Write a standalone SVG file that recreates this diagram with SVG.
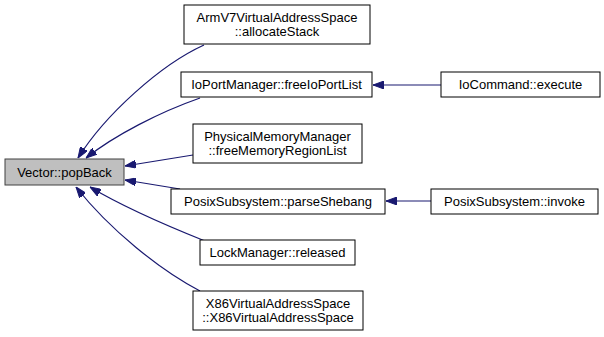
<svg xmlns="http://www.w3.org/2000/svg" width="604" height="337" viewBox="0 0 604 337">
  <style>
    .box { fill: #ffffff; stroke: #000000; stroke-width: 1; }
    .cur { fill: #bfbfbf; stroke: #404040; stroke-width: 1; }
    .lbl { font-family: "Liberation Sans", Arial, Helvetica, sans-serif; font-size: 13px; fill: #000000; text-anchor: middle; }
    .edge { fill: none; stroke: #191970; stroke-width: 1.2; marker-end: url(#head); }
  </style>
  <defs>
    <marker id="head" viewBox="0 0 11 8" refX="11" refY="4" markerWidth="11" markerHeight="8" markerUnits="userSpaceOnUse" orient="auto">
      <path d="M0,0 L11,4 L0,8 Z" fill="#191970" stroke="#191970" stroke-width="1"/>
    </marker>
  </defs>

  <rect width="604" height="337" fill="#ffffff"/>

  <!-- call edges, drawn from caller towards callee -->
  <g id="edges">
    <path class="edge" d="M204,45 C160,65 105,115 78,158"/>
    <path class="edge" d="M200,98 C160,112 115,135 86,158"/>
    <path class="edge" d="M193,155 L125,166"/>
    <path class="edge" d="M180,189 L125,180"/>
    <path class="edge" d="M205,241 C165,225 120,205 90,187"/>
    <path class="edge" d="M200,291 C160,270 110,230 76,187"/>
    <path class="edge" d="M441,85 L373,85"/>
    <path class="edge" d="M431,201 L386,201"/>
  </g>

  <g id="popBack">
    <rect class="cur" x="5" y="159" width="119" height="26"/>
    <text class="lbl" x="64.5" y="177">Vector::popBack</text>
  </g>

  <g id="allocateStack">
    <rect class="box" x="184" y="5" width="186" height="39"/>
    <text class="lbl" x="277" y="22">ArmV7VirtualAddressSpace</text>
    <text class="lbl" x="277" y="36">::allocateStack</text>
  </g>

  <g id="freeIoPortList">
    <rect class="box" x="181" y="72" width="191" height="25"/>
    <text class="lbl" x="276.5" y="89">IoPortManager::freeIoPortList</text>
  </g>

  <g id="freeMemoryRegionList">
    <rect class="box" x="193" y="124" width="169" height="39"/>
    <text class="lbl" x="277.5" y="141">PhysicalMemoryManager</text>
    <text class="lbl" x="277.5" y="155">::freeMemoryRegionList</text>
  </g>

  <g id="parseShebang">
    <rect class="box" x="171" y="189" width="214" height="25"/>
    <text class="lbl" x="278" y="206">PosixSubsystem::parseShebang</text>
  </g>

  <g id="released">
    <rect class="box" x="200" y="240" width="155" height="25"/>
    <text class="lbl" x="277.5" y="257">LockManager::released</text>
  </g>

  <g id="x86ctor">
    <rect class="box" x="193" y="291" width="170" height="39"/>
    <text class="lbl" x="278" y="308">X86VirtualAddressSpace</text>
    <text class="lbl" x="278" y="322">::X86VirtualAddressSpace</text>
  </g>

  <g id="execute">
    <rect class="box" x="441" y="72" width="159" height="25"/>
    <text class="lbl" x="520.5" y="89">IoCommand::execute</text>
  </g>

  <g id="invoke">
    <rect class="box" x="431" y="189" width="167" height="25"/>
    <text class="lbl" x="514.5" y="206">PosixSubsystem::invoke</text>
  </g>
</svg>
